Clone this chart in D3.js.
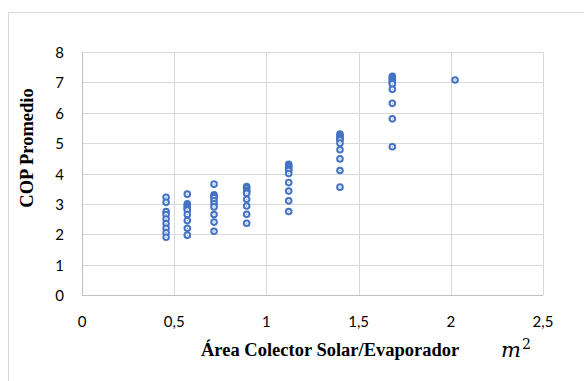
<!DOCTYPE html>
<html>
<head>
<meta charset="utf-8">
<script src="https://cdn.jsdelivr.net/npm/d3@7"></script>
<style>
  body { margin: 0; background: #fff; }
  svg { display: block; }
</style>
</head>
<body>
<svg id="chart" width="584" height="381"></svg>
<script>
(function() {

  // area (m2) of each group of runs
  var areas = [0.456, 0.571, 0.716, 0.893, 1.121, 1.399, 1.683, 2.023];

  // COP values read for each area
  var copA1 = [3.22, 3.05, 2.75, 2.65, 2.5, 2.35, 2.2, 2.05, 1.9];
  var copA2 = [3.32, 3.0, 2.95, 2.9, 2.85, 2.8, 2.65, 2.45, 2.2, 1.97];
  var copA3 = [3.65, 3.3, 3.25, 3.2, 3.1, 3.0, 2.9, 2.65, 2.4, 2.1];
  var copA4 = [3.57, 3.52, 3.45, 3.4, 3.35, 3.15, 2.93, 2.66, 2.36];
  var copA5 = [4.3, 4.25, 4.2, 4.15, 4.1, 4.0, 3.7, 3.42, 3.1, 2.75];
  var copA6 = [5.3, 5.25, 5.2, 5.15, 5.1, 5.0, 4.78, 4.48, 4.1, 3.55];
  var copA7 = [7.2, 7.15, 7.1, 7.05, 7.0, 6.95, 6.77, 6.31, 5.8, 4.88];
  var copA8 = [7.08];

  var copGroups = [copA1, copA2, copA3, copA4, copA5, copA6, copA7, copA8];

  var xTicks = [0, 0.5, 1, 1.5, 2, 2.5];
  var yTicks = [0, 1, 2, 3, 4, 5, 6, 7, 8];

  var xTitle = "Área Colector Solar/Evaporador";
  var yTitle = "COP Promedio";

  var BLUE = "#4472C4";
  var GRID = "#d9d9d9";

  var svg = d3.select("#chart");

  // outer chart frame (runs off the picture at right and bottom)
  svg.append("rect")
    .attr("x", 8.5).attr("y", 12.5)
    .attr("width", 700).attr("height", 500)
    .attr("fill", "#fff")
    .attr("stroke", GRID);

  var x = d3.scaleLinear().domain([0, 2.5]).range([82, 543]);
  var y = d3.scaleLinear().domain([0, 8]).range([295, 52]);

  // gridlines
  svg.append("g").selectAll("line.hgrid")
    .data(yTicks.slice(1))
    .enter().append("line")
    .attr("x1", x(0)).attr("x2", x(2.5))
    .attr("y1", d => Math.round(y(d)) + 0.5)
    .attr("y2", d => Math.round(y(d)) + 0.5)
    .attr("stroke", GRID).attr("stroke-width", 1);

  svg.append("g").selectAll("line.vgrid")
    .data(xTicks.slice(1))
    .enter().append("line")
    .attr("y1", y(0)).attr("y2", y(8))
    .attr("x1", d => Math.round(x(d)) + 0.5)
    .attr("x2", d => Math.round(x(d)) + 0.5)
    .attr("stroke", GRID).attr("stroke-width", 1);

  // axes lines
  svg.append("line")
    .attr("x1", Math.round(x(0)) + 0.5).attr("x2", Math.round(x(0)) + 0.5)
    .attr("y1", y(0)).attr("y2", y(8))
    .attr("stroke", "#bfbfbf");
  svg.append("line")
    .attr("x1", x(0)).attr("x2", x(2.5))
    .attr("y1", Math.round(y(0)) + 0.5).attr("y2", Math.round(y(0)) + 0.5)
    .attr("stroke", "#bfbfbf");

  var fmt = d => String(d).replace(".", ",");

  // tick labels
  svg.append("g").selectAll("text")
    .data(yTicks)
    .enter().append("text")
    .attr("x", 64)
    .attr("y", d => y(d) + 6)
    .attr("text-anchor", "end")
    .attr("font-family", "Lato, 'Liberation Sans', sans-serif")
    .attr("font-size", 15)
    .attr("fill", "#000")
    .text(fmt);

  svg.append("g").selectAll("text")
    .data(xTicks)
    .enter().append("text")
    .attr("x", d => x(d))
    .attr("y", 327)
    .attr("text-anchor", "middle")
    .attr("font-family", "Lato, 'Liberation Sans', sans-serif")
    .attr("font-size", 15)
    .attr("fill", "#000")
    .text(fmt);

  // axis titles
  svg.append("text")
    .attr("x", 201).attr("y", 356)
    .attr("font-family", "'Liberation Serif', 'Times New Roman', serif")
    .attr("font-weight", "bold")
    .attr("font-size", 18.5)
    .text(xTitle);

  var unit = svg.append("text")
    .attr("x", 501).attr("y", 357)
    .attr("font-family", "'DejaVu Serif', 'Liberation Serif', serif");
  unit.append("tspan")
    .attr("font-style", "italic")
    .attr("font-size", 21)
    .text("m");
  unit.append("tspan")
    .attr("font-size", 14)
    .attr("dy", -8)
    .attr("dx", 1)
    .text("2");

  svg.append("text")
    .attr("transform", "translate(33,148) rotate(-90)")
    .attr("text-anchor", "middle")
    .attr("font-family", "'Liberation Serif', 'Times New Roman', serif")
    .attr("font-weight", "bold")
    .attr("font-size", 18.5)
    .text(yTitle);

  // points
  var points = [];
  copGroups.forEach(function(vals, i) {
    vals.forEach(function(v) { points.push({area: areas[i], cop: v}); });
  });

  var marks = svg.append("g").selectAll("g.pt")
    .data(points)
    .enter().append("g")
    .attr("transform", d => "translate(" + x(d.area) + "," + y(d.cop) + ")");

  marks.append("circle")
    .attr("r", 2.8)
    .attr("fill", "#fff")
    .attr("stroke", BLUE)
    .attr("stroke-width", 2);

  marks.append("circle")
    .attr("r", 0.7)
    .attr("fill", BLUE)
    .attr("opacity", 0.7);

})();
</script>
</body>
</html>
